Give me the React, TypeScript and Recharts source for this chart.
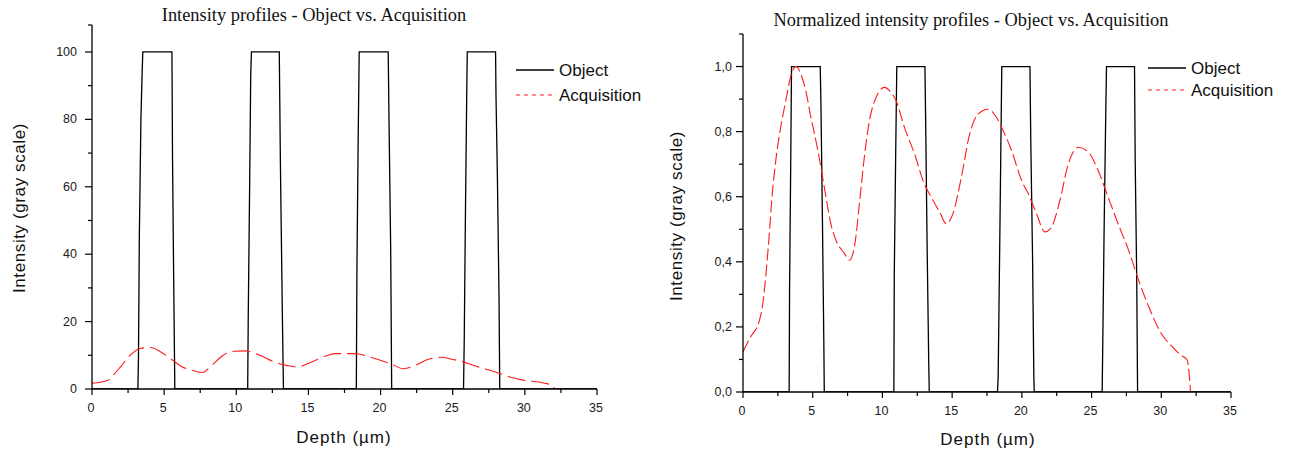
import React from 'react';
import { LineChart, Line, XAxis, YAxis, Legend, Label } from 'recharts';

// ---------- data ----------
const seriesNames = ['Object', 'Acquisition'];
const titles = [
  'Intensity profiles - Object vs. Acquisition',
  'Normalized intensity profiles - Object vs. Acquisition',
];
const xAxisTitle = 'Depth (\u00b5m)';
const yAxisTitle = 'Intensity (gray scale)';

const depthTicks = [0, 2.5, 5, 7.5, 10, 12.5, 15, 17.5, 20, 22.5, 25, 27.5, 30, 32.5, 35];
const rawTicks = [0, 10, 20, 30, 40, 50, 60, 70, 80, 90, 100, 108];
const normTicks = [0, 0.1, 0.2, 0.3, 0.4, 0.5, 0.6, 0.7, 0.8, 0.9, 1.0, 1.1];

// Object profile (raw gray levels)
const objectDepth = [
  0, 3.18, 3.22, 3.28, 3.39, 3.47, 3.52, 5.54, 5.58, 5.66, 5.74,
  10.79, 10.83, 10.92, 11.0, 11.05, 12.98, 13.06, 13.2, 13.27,
  18.32, 18.36, 18.45, 18.52, 20.53, 20.59, 20.7, 20.77,
  25.75, 25.8, 25.88, 25.97, 26.01, 27.97, 28.0, 28.1, 28.21, 28.26, 35,
];
const objectIntensity = [
  0, 0, 9, 45, 80, 93, 100, 100, 69, 33, 0,
  0, 22, 58, 93, 100, 100, 66, 20, 0,
  0, 35, 75, 100, 100, 78, 42, 0,
  0, 15, 51, 87, 100, 100, 87, 62, 27, 0, 0,
];

// Acquisition profile (raw gray levels)
const acqDepth = [
  0, 1.16, 1.5, 2.0, 2.6, 3.33, 4.05, 4.77, 5.6, 6.2, 6.94, 7.66, 8.27, 9.1, 9.83,
  10.55, 11.64, 12.6, 13.5, 14.2, 15.1, 16.2, 16.8, 18.3, 19.0, 20.7, 21.6, 22.6,
  23.3, 24.3, 24.8, 25.5, 26.9, 27.7, 29.1, 29.8, 31.3, 31.8, 32.1,
];
const acqIntensity = [
  1.7, 2.7, 4.2, 6.7, 9.8, 12.0, 12.3, 11.0, 8.5, 6.7, 5.5, 4.9, 6.9, 10.0, 11.2,
  11.3, 10.0, 8.1, 7.0, 6.5, 7.8, 9.8, 10.5, 10.5, 9.8, 7.5, 6.0, 7.4,
  8.8, 9.4, 9.0, 8.3, 6.4, 5.4, 3.4, 2.7, 1.8, 1.2, 0,
];

// Object profile (normalized)
const objectNormDepth = [
  0, 3.31, 3.34, 3.42, 3.48, 5.54, 5.59, 5.7, 5.8, 5.83,
  10.82, 10.85, 10.95, 11.03, 13.05, 13.1, 13.2, 13.32, 13.36,
  18.25, 18.3, 18.4, 18.5, 18.56, 20.58, 20.64, 20.77, 20.86, 20.89,
  25.76, 25.8, 25.9, 26.02, 26.07, 28.08, 28.13, 28.24, 28.3, 35,
];
const objectNormIntensity = [
  0, 0, 0.32, 0.69, 1.0, 1.0, 0.885, 0.517, 0.14, 0,
  0, 0.364, 0.727, 1.0, 1.0, 0.834, 0.466, 0.094, 0,
  0, 0.043, 0.405, 0.772, 1.0, 1.0, 0.772, 0.405, 0.043, 0,
  0, 0.14, 0.502, 0.864, 1.0, 1.0, 0.706, 0.344, 0, 0,
];

// Acquisition profile (normalized)
const acqNormDepth = [
  0, 0.55, 1.15, 1.39, 1.63, 1.87, 2.1, 2.35, 2.7, 3.07, 3.43, 3.79, 4.15, 4.5, 4.87,
  5.23, 5.59, 5.95, 6.3, 6.67, 7.27, 7.63, 7.99, 8.35, 8.7, 9.07, 9.54, 10.14, 10.62,
  10.98, 11.58, 12.3, 13.0, 13.5, 14.1, 14.58, 15.06, 15.66, 16.26, 16.86, 17.58,
  18.18, 18.66, 19.26, 19.98, 20.46, 21.05, 21.65, 22.13, 22.73, 23.33, 24.05, 24.77,
  25.37, 26.1, 26.9, 27.65, 28.37, 29.1, 30.0, 30.77, 31.37, 31.85, 32.1,
];
const acqNormIntensity = [
  0.124, 0.17, 0.216, 0.262, 0.354, 0.477, 0.609, 0.711, 0.813, 0.895, 0.971, 1.0, 0.977, 0.926, 0.844,
  0.772, 0.691, 0.599, 0.517, 0.466, 0.426, 0.405, 0.446, 0.579, 0.721, 0.834, 0.905, 0.936, 0.92,
  0.895, 0.813, 0.732, 0.64, 0.599, 0.553, 0.517, 0.548, 0.66, 0.793, 0.854, 0.869,
  0.844, 0.803, 0.742, 0.65, 0.609, 0.548, 0.492, 0.507, 0.589, 0.701, 0.752, 0.737,
  0.691, 0.609, 0.517, 0.436, 0.344, 0.262, 0.18, 0.14, 0.114, 0.099, 0,
];

const zip = (xs: number[], ys: number[]) => xs.map((x, i) => ({ x, y: ys[i] }));
const objRaw = zip(objectDepth, objectIntensity);
const acqRaw = zip(acqDepth, acqIntensity);
const objNorm = zip(objectNormDepth, objectNormIntensity);
const acqNorm = zip(acqNormDepth, acqNormIntensity);

// ---------- styling helpers ----------
const SANS = '"Liberation Sans", Arial, sans-serif';
const SERIF = '"Liberation Serif", "Times New Roman", serif';
const RED = '#ff1a1a';

const XTick = (props: any) => {
  const { x, y, payload } = props;
  const v = payload.value as number;
  const major = Math.abs(v % 5) < 1e-6;
  return (
    <g>
      <line x1={x} x2={x} y1={y} y2={y + (major ? 6 : 4)} stroke="#000" strokeWidth={1.2} />
      {major && (
        <text x={x - 1} y={y + 19} textAnchor="middle" dominantBaseline="central"
          fontSize={12.5} fill="#1a1a1a" fontFamily={SANS}>
          {v}
        </text>
      )}
    </g>
  );
};

const makeYTick = (isMajor: (v: number) => boolean, fmt: (v: number) => string, gap: number) =>
  (props: any) => {
    const { x, y, payload } = props;
    const v = payload.value as number;
    const major = isMajor(v);
    return (
      <g>
        <line x1={x} x2={x - (major ? 7 : 4)} y1={y} y2={y} stroke="#000" strokeWidth={1.2} />
        {major && (
          <text x={x - gap} y={y} textAnchor="end" dominantBaseline="central"
            fontSize={12.5} fill="#1a1a1a" fontFamily={SANS}>
            {fmt(v)}
          </text>
        )}
      </g>
    );
  };

const RawYTick = makeYTick((v) => v % 20 === 0 && v <= 100, (v) => String(v), 15);
const NormYTick = makeYTick(
  (v) => Math.round(v * 10) % 2 === 0 && v <= 1.0001,
  (v) => v.toFixed(1).replace('.', ','),
  11
);

const LegendBox = ({ gap }: { gap: number }) => (
  <svg width={150} height={gap + 26} style={{ display: 'block', overflow: 'visible' }}>
    <line x1={0} x2={38} y1={12} y2={12} stroke="#000" strokeWidth={1.3} />
    <text x={43} y={12} dominantBaseline="central" fontSize={17} fill="#111" fontFamily={SANS}>
      {seriesNames[0]}
    </text>
    <line x1={0} x2={38} y1={12 + gap} y2={12 + gap} stroke={RED} strokeWidth={1.2} strokeDasharray="4 4" />
    <text x={43} y={12 + gap} dominantBaseline="central" fontSize={17} fill="#111" fontFamily={SANS}>
      {seriesNames[1]}
    </text>
  </svg>
);

const axisLabelX = (cx: number, cy: number) => () => (
  <text x={cx} y={cy} textAnchor="middle" dominantBaseline="central" fontSize={17}
    letterSpacing={1} fill="#111" fontFamily={SANS}>
    {xAxisTitle}
  </text>
);
const axisLabelY = (cx: number, cy: number) => () => (
  <text x={cx} y={cy} textAnchor="middle" dominantBaseline="central" fontSize={17}
    letterSpacing={0.6} fill="#111" fontFamily={SANS} transform={`rotate(-90 ${cx} ${cy})`}>
    {yAxisTitle}
  </text>
);

const titleStyle = (cx: number, cy: number): React.CSSProperties => ({
  position: 'absolute', left: cx - 300, top: cy - 12, width: 600, height: 24, lineHeight: '24px',
  textAlign: 'center', fontFamily: SERIF, fontSize: 18.4, color: '#111', whiteSpace: 'nowrap',
});

export default function App() {
  return (
    <div style={{ position: 'absolute', left: 0, top: 0, width: 1293, height: 452, background: '#fff', overflow: 'hidden' }}>
      <div style={titleStyle(314, 15)}>{titles[0]}</div>
      <div style={titleStyle(971, 20)}>{titles[1]}</div>

      {/* Left chart: raw intensities */}
      <div style={{ position: 'absolute', left: 0, top: 0 }}>
        <LineChart width={650} height={452} margin={{ top: 25, right: 53, bottom: 0, left: 0 }}>
          <XAxis type="number" dataKey="x" domain={[0, 35]} ticks={depthTicks} interval={0}
            height={63} tickSize={0} tickMargin={0} tickLine={false} tick={XTick}
            axisLine={{ stroke: '#000', strokeWidth: 1.3 }} allowDataOverflow>
            <Label content={axisLabelX(344, 437)} />
          </XAxis>
          <YAxis type="number" domain={[0, 108]} ticks={rawTicks} interval={0}
            width={92} tickSize={0} tickMargin={0} tickLine={false} tick={RawYTick}
            axisLine={{ stroke: '#000', strokeWidth: 1.3 }} allowDataOverflow>
            <Label content={axisLabelY(19, 208)} />
          </YAxis>
          <Legend layout="horizontal" verticalAlign="middle" align="center"
            wrapperStyle={{ position: 'absolute', left: 516, top: 58, width: 150, height: 50 }}
            content={() => <LegendBox gap={25} />} />
          <Line data={objRaw} dataKey="y" name={seriesNames[0]} type="linear" stroke="#000"
            strokeWidth={1.3} dot={false} activeDot={false} isAnimationActive={false} />
          <Line data={acqRaw} dataKey="y" name={seriesNames[1]} type="monotone" stroke={RED}
            strokeWidth={1.1} strokeDasharray="18 6" dot={false} activeDot={false} isAnimationActive={false} />
        </LineChart>
      </div>

      {/* Right chart: normalized intensities */}
      <div style={{ position: 'absolute', left: 643, top: 0 }}>
        <LineChart width={650} height={452} margin={{ top: 34, right: 62, bottom: 0, left: 0 }}>
          <XAxis type="number" dataKey="x" domain={[0, 35]} ticks={depthTicks} interval={0}
            height={60} tickSize={0} tickMargin={0} tickLine={false} tick={XTick}
            axisLine={{ stroke: '#000', strokeWidth: 1.3 }} allowDataOverflow>
            <Label content={axisLabelX(345, 439)} />
          </XAxis>
          <YAxis type="number" domain={[0, 1.1]} ticks={normTicks} interval={0}
            width={100} tickSize={0} tickMargin={0} tickLine={false} tick={NormYTick}
            axisLine={{ stroke: '#000', strokeWidth: 1.3 }} allowDataOverflow>
            <Label content={axisLabelY(33, 216)} />
          </YAxis>
          <Legend layout="horizontal" verticalAlign="middle" align="center"
            wrapperStyle={{ position: 'absolute', left: 505, top: 56, width: 150, height: 50 }}
            content={() => <LegendBox gap={22} />} />
          <Line data={objNorm} dataKey="y" name={seriesNames[0]} type="linear" stroke="#000"
            strokeWidth={1.3} dot={false} activeDot={false} isAnimationActive={false} />
          <Line data={acqNorm} dataKey="y" name={seriesNames[1]} type="monotone" stroke={RED}
            strokeWidth={1.1} strokeDasharray="12 4" dot={false} activeDot={false} isAnimationActive={false} />
        </LineChart>
      </div>
    </div>
  );
}
